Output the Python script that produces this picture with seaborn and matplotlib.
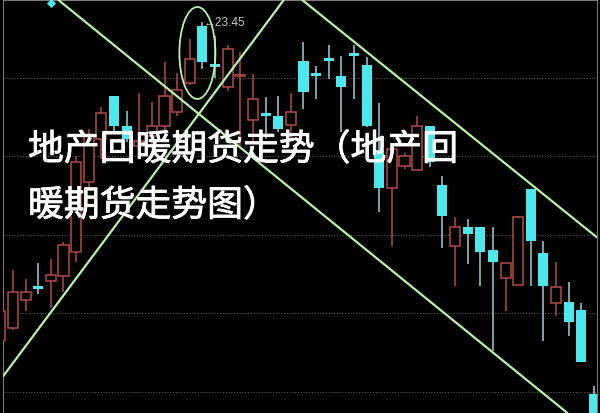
import matplotlib
matplotlib.use("Agg")
import matplotlib.pyplot as plt
import matplotlib.patheffects as pe
from matplotlib.patches import Ellipse
import seaborn as sns

# daily candles (price units)
opens = [20.26, 20.39, 20.67, 20.81, 20.86, 20.91, 21.15, 21.85, 22.28, 22.71,
         22.41, 22.21, 22.31, 22.41, 22.55, 22.84, 23.41, 23.03, 22.80, 22.91,
         22.47, 22.52, 22.51, 22.42, 23.06, 22.92, 23.07, 22.91, 23.12, 23.02,
         22.17, 21.79, 22.01, 21.97, 22.41, 21.82, 21.21, 21.40, 21.40, 21.17,
         20.89, 20.82, 21.78, 21.14, 20.64, 20.65, 20.57, 19.73]
closes = [20.56, 20.75, 20.75, 20.78, 20.92, 21.22, 22.05, 22.31, 22.54, 22.41,
          22.28, 22.26, 22.41, 22.71, 22.77, 23.08, 23.05, 23.00, 23.18, 22.92,
          22.68, 22.51, 22.38, 22.55, 22.75, 22.91, 23.06, 22.80, 23.11, 22.41,
          21.79, 22.18, 22.11, 22.41, 22.05, 21.51, 21.40, 21.33, 21.15, 21.05,
          21.04, 21.50, 21.26, 20.81, 20.80, 20.45, 20.05, 19.48]
highs = [20.68, 20.97, 20.88, 21.04, 21.08, 21.25, 22.11, 22.38, 22.60, 22.71,
         22.56, 22.74, 22.65, 23.05, 22.94, 23.28, 23.45, 23.31, 23.22, 23.15,
         22.93, 22.70, 22.71, 22.74, 23.25, 23.01, 23.22, 23.11, 23.22, 23.10,
         22.64, 22.18, 22.14, 22.51, 22.41, 21.91, 21.50, 21.48, 21.40, 21.40,
         21.04, 21.51, 21.78, 21.26, 21.05, 20.85, 20.64, 19.81]
lows = [20.23, 20.37, 20.56, 20.73, 20.59, 20.75, 21.05, 21.78, 22.08, 22.33,
        22.25, 22.15, 22.18, 22.35, 22.51, 22.82, 22.98, 22.89, 22.76, 22.21,
        22.23, 22.28, 22.35, 22.28, 22.58, 22.68, 22.88, 22.35, 22.68, 22.40,
        21.55, 21.21, 21.98, 21.97, 22.00, 21.19, 20.81, 21.03, 20.81, 20.16,
        20.56, 20.82, 20.81, 20.26, 20.51, 20.31, 20.05, 19.48]

grid_levels = [22.89, 22.11, 21.32, 20.54, 19.75]
peak_label = "←23.45"
peak_index = 16

# hand drawn trend lines: two anchor points each (candle index, price)
trend_down_1 = [(4.5, 23.68), (44.9, 19.54)]
trend_up = [(0.0, 19.87), (22.5, 23.68)]
trend_down_2 = [(24.1, 23.65), (47.3, 21.29)]
circle_center = (15.6, 23.14)
circle_size = (2.85, 0.92)
marker_point = (4.0, 23.64)

title_line1 = "地产回暖期货走势（地产回"
title_line2 = "暖期货走势图）"

RED = "#b34a4a"
CYAN = "#4de8ee"
CYAN_WICK = "#9fcfd6"
GREEN = "#b9f2a8"

sns.set_theme(style="dark", rc={"axes.facecolor": "black",
                                "figure.facecolor": "black"})

fig = plt.figure(figsize=(6, 4.14), dpi=100)
ax = fig.add_axes([3 / 600, 0, 594 / 600, 413 / 414])
ax.set_facecolor("black")

for lvl in grid_levels:
    ax.axhline(lvl, color="#5a5a5a", lw=0.8, ls=(0, (1, 1.5)), zorder=1)

width = 0.8
for i, (o, c, h, l) in enumerate(zip(opens, closes, highs, lows)):
    top, bot = max(o, c), min(o, c)
    if c > o:
        # rising: hollow red body
        ax.vlines(i, top, h, color=RED, lw=1.1, zorder=2)
        ax.vlines(i, l, bot, color=RED, lw=1.1, zorder=2)
        ax.bar(i, max(top - bot, 0.012), bottom=bot, width=width,
               facecolor="black", edgecolor=RED, lw=1.1, zorder=3)
    else:
        ax.vlines(i, l, h, color=CYAN_WICK, lw=1.1, zorder=2)
        ax.bar(i, max(top - bot, 0.028), bottom=bot, width=width,
               color=CYAN, lw=0, zorder=3)

for p1, p2 in (trend_down_1, trend_up, trend_down_2):
    ax.axline(p1, p2, color=GREEN, lw=1.6, zorder=4)

ax.add_patch(Ellipse(circle_center, circle_size[0], circle_size[1],
                     fill=False, edgecolor=GREEN, lw=1.3, zorder=4))
ax.scatter([marker_point[0]], [marker_point[1]], marker="D", s=14,
           color=CYAN, zorder=5)

ax.text(peak_index + 0.1, highs[peak_index], peak_label, color="#c8c8c8",
        fontsize=8.6, family=["Liberation Sans", "DejaVu Sans"],
        ha="left", va="center", zorder=5)

ax.set_xlim(0.21, 47.24)
ax.set_ylim(19.54, 23.67)
ax.set_xticks([])
ax.set_yticks([])
for side in ("left", "right", "top"):
    ax.spines[side].set_visible(True)
    ax.spines[side].set_color("#808080")
    ax.spines[side].set_linewidth(0.7)
ax.spines["bottom"].set_visible(False)
ax.grid(False)

cjk = ["Noto Sans CJK SC", "DejaVu Sans"]
thick = [pe.withStroke(linewidth=0.6, foreground="white")]
fig.text(28 / 600, 1 - 151 / 414, title_line1, color="white", fontsize=25.8,
         family=cjk, ha="left", va="center", zorder=10, path_effects=thick)
fig.text(28 / 600, 1 - 207 / 414, title_line2, color="white", fontsize=25.8,
         family=cjk, ha="left", va="center", zorder=10, path_effects=thick)

fig.savefig("out.png", dpi=100, facecolor="black")
